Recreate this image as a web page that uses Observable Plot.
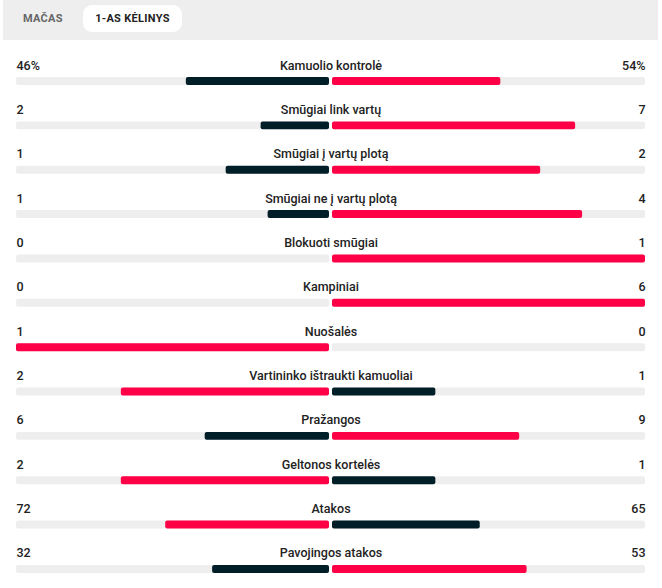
<!DOCTYPE html>
<html>
<head>
<meta charset="utf-8">
<script src="https://cdn.jsdelivr.net/npm/d3@7"></script>
<script src="https://cdn.jsdelivr.net/npm/@observablehq/plot@0.6"></script>
<style>
  html, body { margin: 0; padding: 0; background: #fff; }
  body { width: 662px; height: 588px; overflow: hidden; font-family: Roboto, "DejaVu Sans", sans-serif; }
  .hdr { position: relative; height: 40px; margin-left: 3px; width: 655px; background: #eeeeee; }
  .tab { position: absolute; top: 5px; height: 27px; line-height: 27px; font-size: 11px; font-weight: 700; letter-spacing: 0.3px; }
  .tab1 { left: 20px; color: #666; }
  .tab2 { left: 80px; width: 99px; background: #fff; border-radius: 9px; text-align: center; color: #222; }
  #chart svg { display: block; }
</style>
</head>
<body>
<div class="hdr">
  <div class="tab tab1">MAČAS</div>
  <div class="tab tab2">1-AS KĖLINYS</div>
</div>
<div id="chart"></div>
<script>
const stats = ["Kamuolio kontrolė","Smūgiai link vartų","Smūgiai į vartų plotą","Smūgiai ne į vartų plotą","Blokuoti smūgiai","Kampiniai","Nuošalės","Vartininko ištraukti kamuoliai","Pražangos","Geltonos kortelės","Atakos","Pavojingos atakos"];
const homeValues = [46, 2, 1, 1, 0, 0, 1, 2, 6, 2, 72, 32];
const awayValues = [54, 7, 2, 4, 1, 6, 0, 1, 9, 1, 65, 53];
const units = ["%", "", "", "", "", "", "", "", "", "", "", ""];

const RED = "#ff0046";
const DARK = "#001e28";
const TRACK = "#eeeeee";

const rows = stats.map((s, i) => {
  const h = homeValues[i], a = awayValues[i], t = h + a;
  return {
    stat: s,
    home: h, away: a,
    hf: t ? h / t : 0, af: t ? a / t : 0,
    hLabel: h + units[i], aLabel: a + units[i],
    hColor: h > a ? RED : DARK,
    aColor: a > h ? RED : DARK
  };
});

const H = 548;
const step = 44.36;
const y0 = 41 - step / 2;

const chart = Plot.plot({
  width: 662,
  height: H,
  margin: 0,
  style: { fontFamily: "Roboto, 'DejaVu Sans', sans-serif", fontSize: "12.5px", background: "#fff" },
  x: { domain: [-1, 1], range: [16, 645], axis: null },
  y: { type: "band", domain: stats, range: [y0, y0 + step * stats.length], padding: 0, round: false, axis: null },
  marks: [
    Plot.barX(rows, { y: "stat", x1: -1, x2: 0, fill: TRACK, insetTop: 18.2, insetBottom: 18.2, insetRight: 1.5, rx: 2 }),
    Plot.barX(rows, { y: "stat", x1: 0, x2: 1, fill: TRACK, insetTop: 18.2, insetBottom: 18.2, insetLeft: 1.5, rx: 2 }),
    Plot.barX(rows.filter(d => d.hf > 0), { y: "stat", x1: d => -d.hf, x2: 0, fill: d => d.hColor, insetTop: 18.2, insetBottom: 18.2, insetRight: 1.5, rx: 2 }),
    Plot.barX(rows.filter(d => d.af > 0), { y: "stat", x1: 0, x2: d => d.af, fill: d => d.aColor, insetTop: 18.2, insetBottom: 18.2, insetLeft: 1.5, rx: 2 }),
    Plot.text(rows, { y: "stat", x: 0, text: "stat", dy: -16, fill: "#222", fontWeight: 500, fontSize: 12.5 }),
    Plot.text(rows, { y: "stat", x: -1, text: "hLabel", dy: -16, textAnchor: "start", fill: "#222", fontWeight: 500, fontSize: 12.5 }),
    Plot.text(rows, { y: "stat", x: 1, text: "aLabel", dy: -16, textAnchor: "end", fill: "#222", fontWeight: 500, fontSize: 12.5 })
  ]
});
document.getElementById("chart").appendChild(chart);
</script>
</body>
</html>
